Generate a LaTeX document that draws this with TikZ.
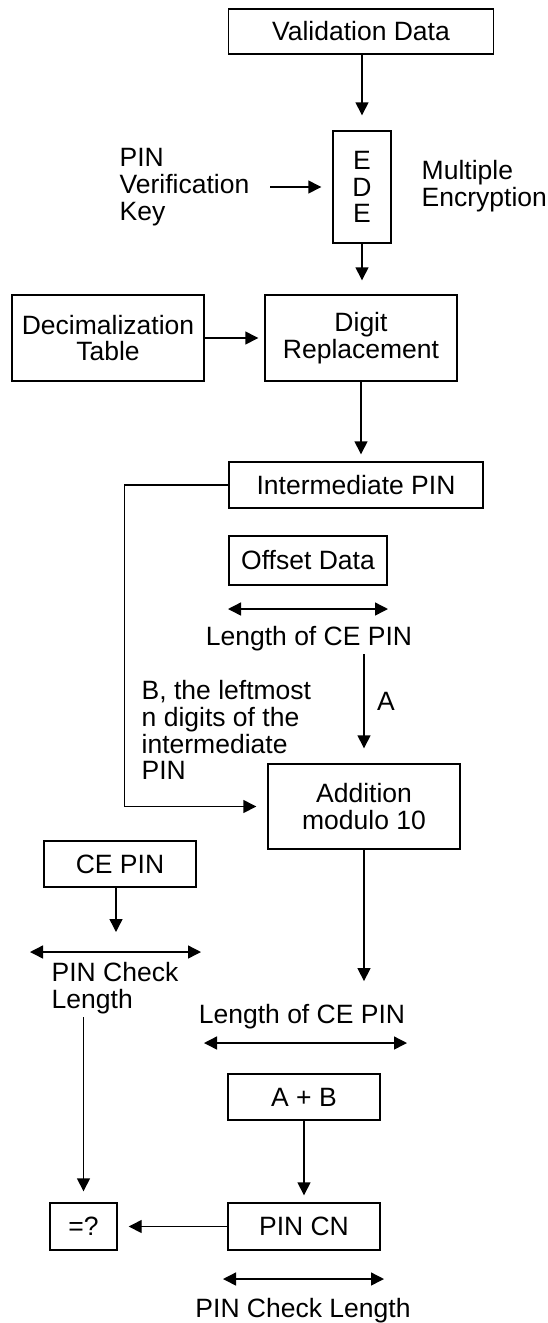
\documentclass[tikz,border=0pt]{standalone}
\usepackage{fontspec}
\setmainfont{Liberation Sans}
\usetikzlibrary{arrows.meta}

\begin{document}
\begin{tikzpicture}[x=1pt, y=-1pt, line width=1.4pt,
  >={Triangle[length=13pt,width=13pt]},
  font=\fontsize{26.5}{26.8}\selectfont,
  box/.style={draw, inner sep=0pt, align=center},
  txt/.style={inner sep=0pt, align=left},
  lbl/.style={inner sep=0pt, anchor=base}]
\useasboundingbox (0,0) rectangle (548,1323);

\node[box, minimum width=265pt, minimum height=45pt] (val)    at (361,31.5)  {Validation Data};
\node[box, minimum width=58pt,  minimum height=112pt] (ede)   at (362,187)   {E\\D\\E};
\node[txt, anchor=west]                               (pvk)   at (119,187)   {PIN\\Verification\\Key};
\node[txt, anchor=west]                               (multi) at (421,186)   {Multiple\\Encryption};
\node[box, minimum width=192pt, minimum height=86pt]  (dec)   at (108,338)   {Decimalization\\Table};
\node[box, minimum width=192pt, minimum height=86pt]  (digit) at (361,338)   {Digit\\Replacement};
\node[box, minimum width=254pt, minimum height=46pt]  (inter) at (356,485)   {Intermediate PIN};
\node[box, minimum width=158pt, minimum height=49pt]  (offset) at (308,560.5) {Offset Data};
\node[lbl]                                            (lenA)  at (309,645)   {Length of CE PIN};
\node[lbl]                                            (labA)  at (386,710)   {A};
\node[txt, anchor=west]                               (bdesc) at (141,730)   {B, the leftmost\\n digits of the\\intermediate\\PIN};
\node[box, minimum width=192pt, minimum height=85pt]  (add)   at (364,806.5) {Addition\\modulo 10};
\node[box, minimum width=152pt, minimum height=46pt]  (cepin) at (120,864)   {CE PIN};
\node[txt, anchor=west]                               (pcl)   at (51,988)    {PIN Check\\Length};
\node[lbl]                                            (lenB)  at (302,1023)  {Length of CE PIN};
\node[box, minimum width=152pt, minimum height=46pt]  (ab)    at (304,1097)  {A + B};
\node[box, minimum width=152pt, minimum height=47pt]  (pincn) at (304,1226.5) {PIN CN};
\node[box, minimum width=67pt,  minimum height=47pt]  (eq)    at (83.5,1226.5) {=?};
\node[lbl]                                            (pclB)  at (303,1317)  {PIN Check Length};

\coordinate (lenAl) at (228,609);
\coordinate (lenAr) at (388,609);
\coordinate (pclL)  at (30,952);
\coordinate (pclR)  at (201,952);
\coordinate (pclM)  at (116,952);
\coordinate (lenBl) at (204,1043);
\coordinate (lenBr) at (407,1043);
\coordinate (pclBl) at (223,1279);
\coordinate (pclBr) at (384,1279);

\path[->]
(val.south -| ede)   edge[shorten >=15pt]                 (ede)
(pvk)                edge[shorten <=20pt, shorten >=11pt] (ede)
(ede)                edge[shorten >=14pt]                 (ede |- digit.north)
(dec)                edge[shorten >=6pt]                  (digit)
(digit)              edge[shorten >=7pt]                  (digit |- inter.north)
(lenA.south -| add)  edge[shorten <=3pt, shorten >=15pt]  (add)
(add)                edge[shorten >=22pt]                 (add |- lenB.north)
(cepin.south -| pclM) edge[shorten >=20pt]                (pclM)
(pcl.south -| eq)    edge[shorten <=3pt, shorten >=11pt]  (eq)
(ab)                 edge[shorten >=7pt]                  (pincn)
(pincn)              edge[shorten >=11pt]                 (eq);

\draw[->, shorten >=11pt] (inter.west) -- ++(-104,0) |- (add.west);

\draw[<->] (lenAl) -- (lenAr);
\draw[<->] (pclL)  -- (pclR);
\draw[<->] (lenBl) -- (lenBr);
\draw[<->] (pclBl) -- (pclBr);
\end{tikzpicture}
\end{document}
